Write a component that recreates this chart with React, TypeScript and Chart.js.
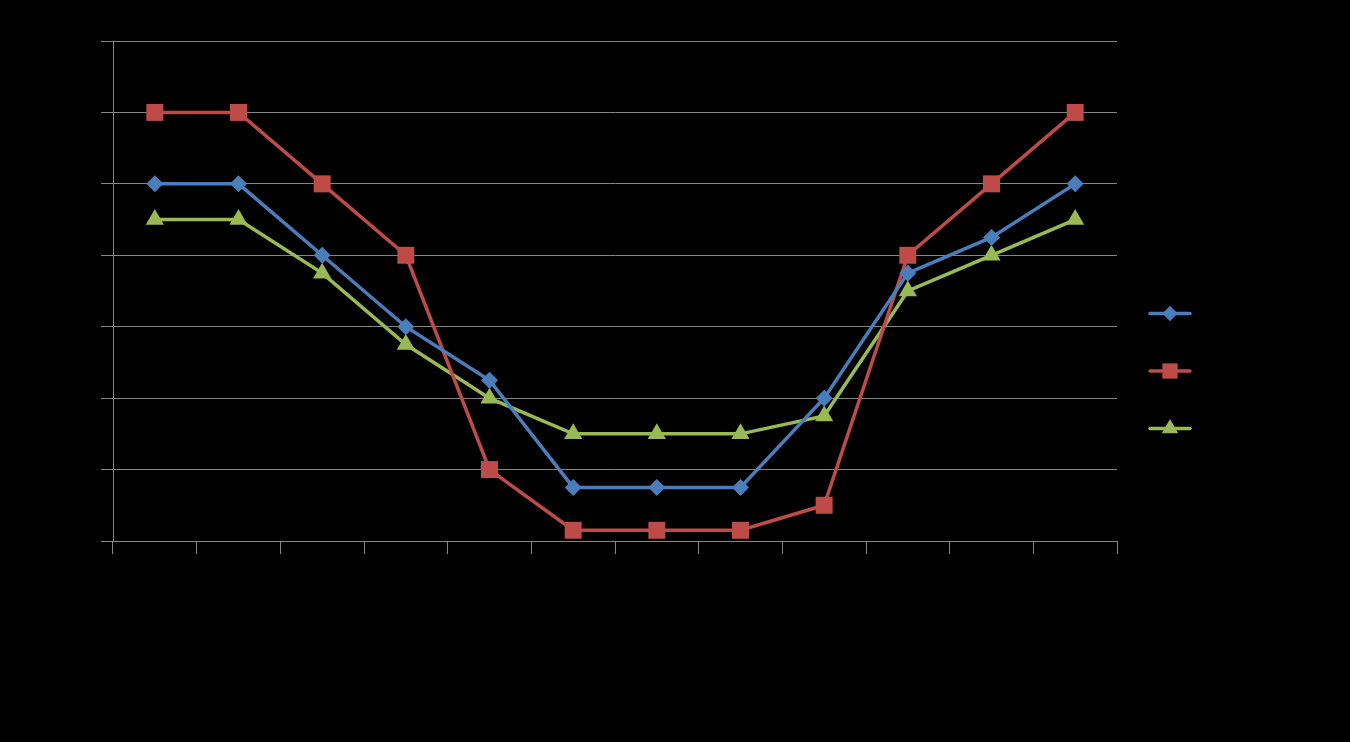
import React, { useEffect, useRef } from "react";
import { Chart, registerables } from "chart.js";

Chart.register(...registerables);

const categories = ["1", "2", "3", "4", "5", "6", "7", "8", "9", "10", "11", "12"];
const seriesNames = ["Series1", "Series2", "Series3"];
const blueValues = [5, 5, 4, 3, 2.25, 0.75, 0.75, 0.75, 2, 3.75, 4.25, 5];
const redValues = [6, 6, 5, 4, 1, 0.15, 0.15, 0.15, 0.5, 4, 5, 6];
const greenValues = [4.5, 4.5, 3.75, 2.75, 2, 1.5, 1.5, 1.5, 1.75, 3.5, 4, 4.5];
const yMin = 0;
const yMax = 7;
const yStep = 1;

const colors = ["#4A7EBB", "#BE4B48", "#98B954"];
const pointStyles = ["rectRot", "rect", "triangle"] as const;
const pointRadii = [8.5, 12, 10.5];

function drawMarker(ctx: CanvasRenderingContext2D, style: string, x: number, y: number, r: number) {
  ctx.beginPath();
  if (style === "rectRot") {
    ctx.moveTo(x, y - r);
    ctx.lineTo(x + r, y);
    ctx.lineTo(x, y + r);
    ctx.lineTo(x - r, y);
  } else if (style === "rect") {
    const s = r / Math.SQRT2;
    ctx.rect(x - s, y - s, 2 * s, 2 * s);
  } else {
    ctx.moveTo(x, y - r);
    ctx.lineTo(x + r * 0.866, y + r * 0.5);
    ctx.lineTo(x - r * 0.866, y + r * 0.5);
  }
  ctx.closePath();
  ctx.fill();
}

const legendPlugin = {
  id: "sideLegend",
  afterDraw(chart: any) {
    const ctx = chart.ctx as CanvasRenderingContext2D;
    const area = chart.chartArea;
    const cx = area.right + 53;
    const cy = chart.height / 2;
    const gap = 57.5;
    chart.data.datasets.forEach((ds: any, i: number) => {
      const y = cy + (i - 1) * gap;
      ctx.save();
      ctx.strokeStyle = ds.borderColor;
      ctx.lineWidth = 3.5;
      ctx.lineCap = "round";
      ctx.beginPath();
      ctx.moveTo(cx - 20, y);
      ctx.lineTo(cx + 20, y);
      ctx.stroke();
      ctx.fillStyle = ds.backgroundColor;
      drawMarker(ctx, ds.pointStyle, cx, y, ds.pointRadius * 0.9);
      ctx.fillStyle = "#000000";
      ctx.font = "14px 'Liberation Sans', Arial, sans-serif";
      ctx.textBaseline = "middle";
      ctx.fillText(ds.label, cx + 28, y);
      ctx.restore();
    });
  },
};

export default function App() {
  const ref = useRef<HTMLCanvasElement | null>(null);
  useEffect(() => {
    document.body.style.margin = "0";
    document.body.style.background = "#000";
    const canvas = ref.current!;
    const values = [blueValues, redValues, greenValues];
    const chart = new Chart(canvas, {
      type: "line",
      data: {
        labels: categories,
        datasets: values.map((v, i) => ({
          label: seriesNames[i],
          data: v,
          borderColor: colors[i],
          backgroundColor: colors[i],
          borderWidth: 3.5,
          pointStyle: pointStyles[i],
          pointRadius: pointRadii[i],
          pointBorderWidth: 0,
          pointBackgroundColor: colors[i],
          tension: 0,
        })),
      },
      plugins: [legendPlugin],
      options: {
        responsive: false,
        animation: false,
        layout: { padding: { left: 101, top: 41, right: 233, bottom: 188 } },
        plugins: {
          legend: { display: false },
          tooltip: { enabled: false },
        },
        scales: {
          x: {
            offset: true,
            grid: {
              offset: true,
              drawOnChartArea: false,
              drawTicks: true,
              tickLength: 13,
              color: "#868686",
              lineWidth: 1,
            },
            border: { display: true, color: "#868686", width: 1 },
            ticks: { display: false },
          },
          y: {
            min: yMin,
            max: yMax,
            ticks: { display: false, stepSize: yStep },
            grid: {
              drawOnChartArea: true,
              drawTicks: true,
              tickLength: 12,
              color: "#868686",
              lineWidth: 1,
            },
            border: { display: true, color: "#868686", width: 1 },
          },
        },
      },
    });
    return () => chart.destroy();
  }, []);
  return (
    <div style={{ position: "fixed", left: 0, top: 0, width: 1350, height: 742, background: "#000" }}>
      <canvas ref={ref} width={1350} height={742} style={{ width: 1350, height: 742, display: "block" }} />
    </div>
  );
}
